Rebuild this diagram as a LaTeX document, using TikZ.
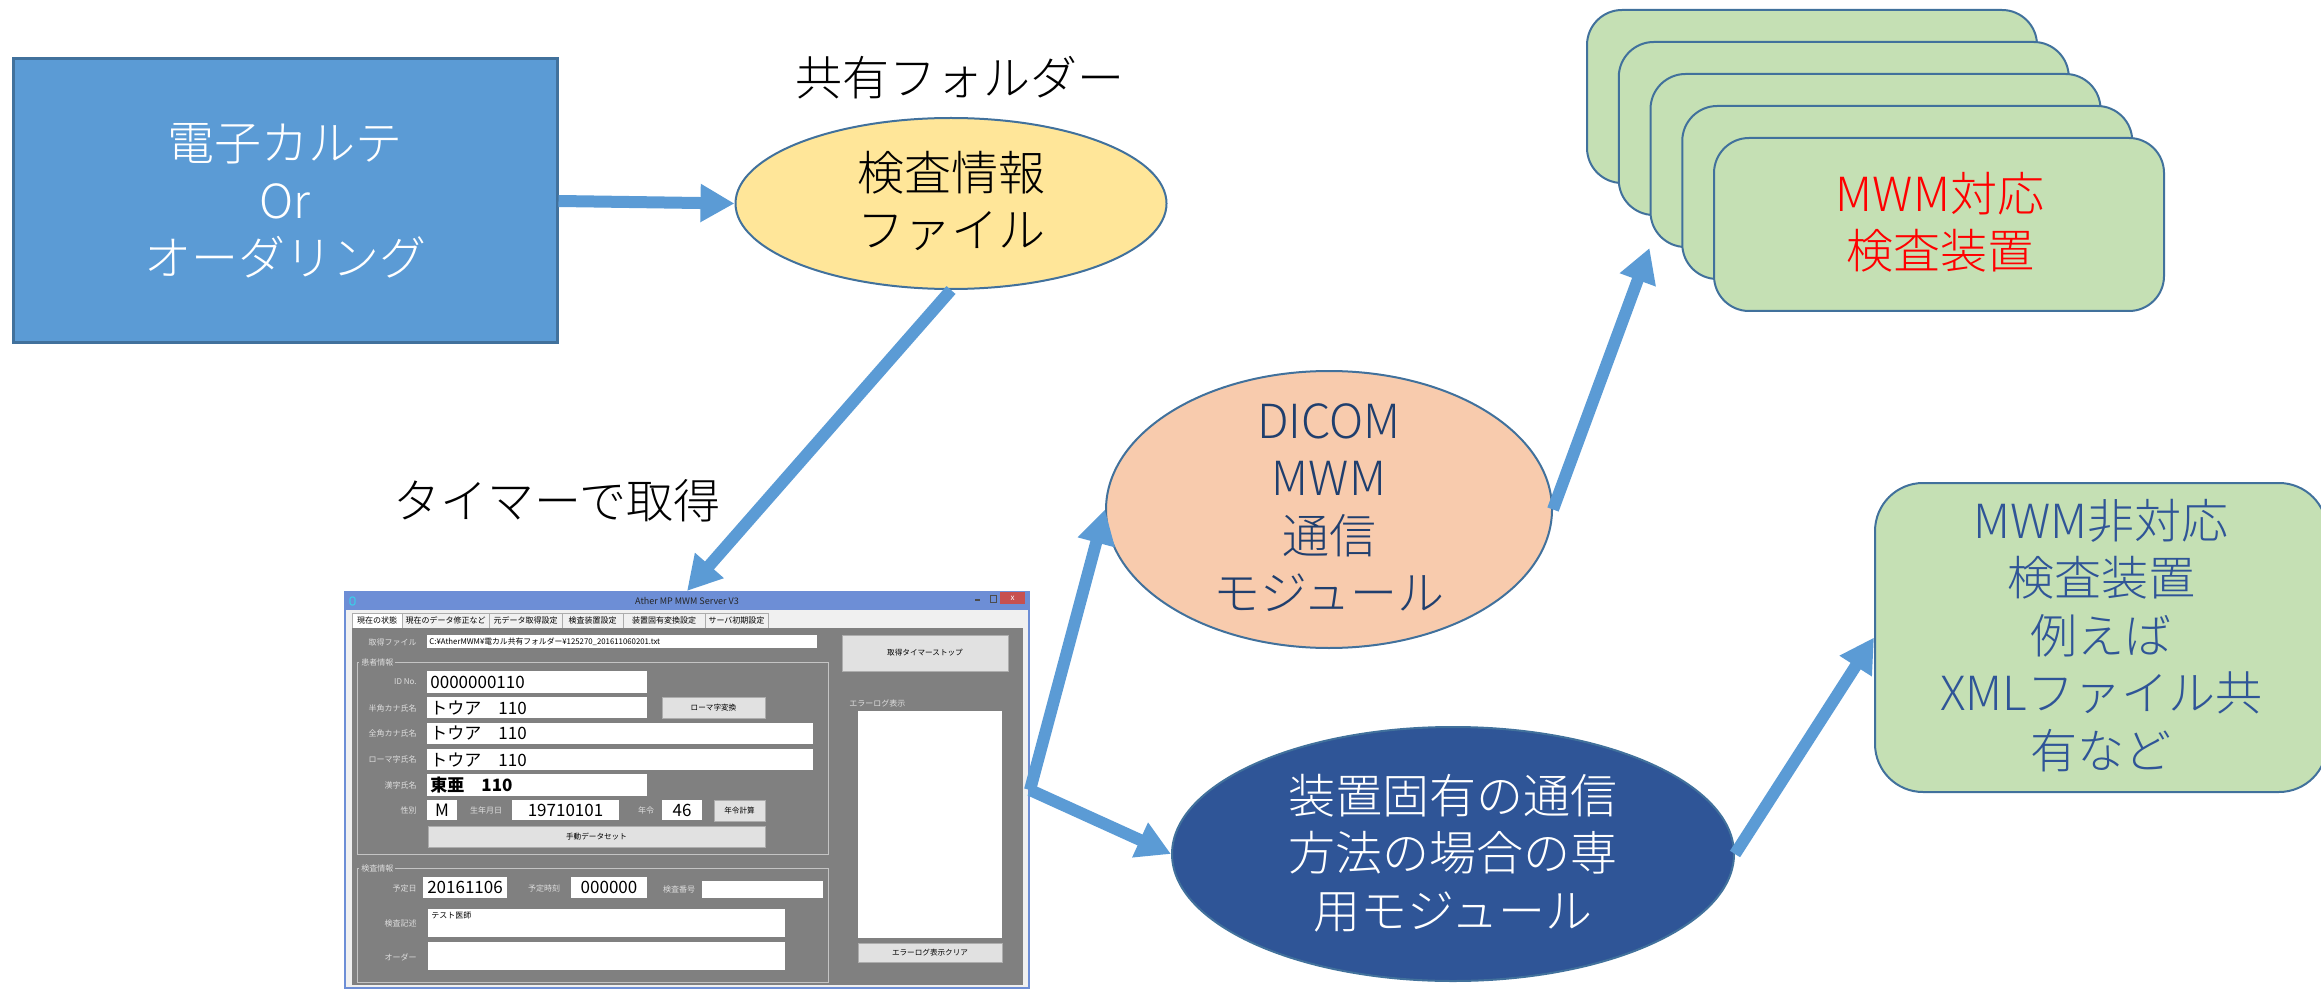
\documentclass[tikz,border=0pt]{standalone}
\usepackage{fontspec}
\setmainfont{Noto Sans CJK JP}[UprightFont=* Light,BoldFont=* Bold]
\newfontfamily\uifont{Noto Sans CJK JP}
\usetikzlibrary{arrows.meta,shapes.geometric}
\definecolor{flowblue}{HTML}{5B9BD5}
\definecolor{edgeblue}{HTML}{41719C}
\definecolor{emrfill}{HTML}{5B9BD5}
\definecolor{filefill}{HTML}{FFE699}
\definecolor{dicomfill}{HTML}{F8CBAD}
\definecolor{dicomtext}{HTML}{203F6E}
\definecolor{darkfill}{HTML}{2F5597}
\definecolor{devfill}{HTML}{C5E0B4}
\definecolor{devtext}{HTML}{2F5597}
\definecolor{wintitle}{HTML}{6D8ED6}
\definecolor{winframe}{HTML}{F0F0F0}
\definecolor{winbody}{HTML}{808080}
\definecolor{wingroup}{HTML}{C4C4C4}
\definecolor{winlabel}{HTML}{DEDEDE}
\definecolor{btnfill}{HTML}{E1E1E1}
\definecolor{btnedge}{HTML}{ADADAD}
\definecolor{closered}{HTML}{C75050}
\definecolor{tabedge}{HTML}{ACACAC}
\definecolor{iconcyan}{HTML}{3FC8E8}
\newcommand\uib[6]{%
  \pgfmathsetmacro\uibw{(#5-#3)*0.5}%
  \pgfmathsetmacro\uibh{(#6-#4)*0.5}%
  \node[#2,anchor=north west,inner sep=0pt,outer sep=0pt,minimum width=\uibw pt,minimum height=\uibh pt] (#1) at (#3,#4) {};}
\begin{document}
\begin{tikzpicture}[x=0.5pt,y=-0.5pt,
  big/.style={font=\fontsize{23.5pt}{28.75pt}\selectfont,align=center,inner sep=0pt},
  flow/.style={draw=flowblue,line width=6pt,-{Triangle[length=17pt,width=18pt]}},
  shapeedge/.style={draw=edgeblue,line width=1pt},
  devbox/.style={shapeedge,fill=devfill,rounded corners=17.5pt,minimum width=225pt,minimum height=86.5pt,inner sep=0pt},
  uilbl/.style={font=\uifont\fontsize{4pt}{5pt}\selectfont,text=winlabel,inner sep=0pt},
  uibtn/.style={fill=btnfill,draw=btnedge,line width=0.4pt},
  uifld/.style={fill=white},
  uibtxt/.style={font=\uifont\fontsize{3.8pt}{4.5pt}\selectfont,text=black,inner sep=0pt},
  uival/.style={font=\uifont\fontsize{8.5pt}{10pt}\selectfont,text=black,inner sep=0pt},
  tabbox/.style={fill=winframe,draw=tabedge,line width=0.4pt},
  tabtxt/.style={font=\uifont\fontsize{4pt}{5pt}\selectfont,text=black,inner sep=0pt},
  grpline/.style={draw=wingroup,line width=0.4pt},
]
\useasboundingbox (0,0) rectangle (2321,989);

% ---------- main flow shapes ----------
\node[shapeedge,line width=1.5pt,fill=emrfill,minimum width=272pt,minimum height=142pt,big,text=white] (emr) at (285,201) {電子カルテ\\Or\\オーダリング};

\node[big] (folderlbl) at (960,78) {共有フォルダー};
\node[ellipse,shapeedge,fill=filefill,minimum width=215.5pt,minimum height=85.5pt,inner sep=0pt] (file) at (951,203.5) {};
\node[big] (filetxt) at (951,201) {検査情報\\ファイル};

\node[big] (timerlbl) at (557,501) {タイマーで取得};

\node[ellipse,shapeedge,fill=dicomfill,minimum width=223pt,minimum height=138.5pt,inner sep=0pt] (dicom) at (1329,509.5) {};
\node[big,text=dicomtext] (dicomtxt) at (1329,507.5) {DICOM\\MWM\\通信\\モジュール};

\node[ellipse,shapeedge,fill=darkfill,minimum width=281pt,minimum height=127pt,inner sep=0pt] (dark) at (1453,854) {};
\node[big,text=white] (darktxt) at (1453,853) {装置固有の通信\\方法の場合の専\\用モジュール};

\node[devbox] (dev0) at (1812,96.5) {};
\node[devbox] (dev1) at (1843.75,128.5) {};
\node[devbox] (dev2) at (1875.5,160.5) {};
\node[devbox] (dev3) at (1907.25,192.5) {};
\node[devbox] (dev4) at (1939,224.5) {};
\node[big,text=red] (devtxt) at (1940,222.5) {MWM対応\\検査装置};

\node[shapeedge,fill=devfill,rounded corners=24pt,minimum width=226pt,minimum height=154.5pt,inner sep=0pt] (other) at (2101,637.5) {};
\node[big,text=devtext] (othertxt) at (2101,635.5) {MWM非対応\\検査装置\\例えば\\XMLファイル共\\有など};

% ---------- application window ----------
\node[draw=wintitle,line width=1pt,fill=winframe,minimum width=342pt,minimum height=198pt,inner sep=0pt] (win) at (687,790) {};
\uib{titlebar}{fill=wintitle}{345}{592}{1029}{610}
\node[font=\uifont\fontsize{4.5pt}{5pt}\selectfont,text=black!85,inner sep=0pt] (titletxt) at (687,601) {Ather MP MWM Server V3};
\uib{closebtn}{fill=closered}{1000}{592}{1025}{604}
\node[font=\uifont\fontsize{4pt}{5pt}\selectfont,text=white,inner sep=0pt] (closex) at (closebtn) {x};
\uib{minbtn}{fill=black!70}{975}{599}{980}{600.5}
\uib{maxbtn}{draw=black!70,line width=0.4pt}{990}{595}{996}{602}
\uib{appicon}{draw=iconcyan,line width=0.6pt,rounded corners=1pt}{350}{597}{355}{605}

\uib{tab1}{fill=white,draw=tabedge,line width=0.4pt}{352}{613}{402}{628}
\uib{tab2}{tabbox}{402}{613}{489}{628}
\uib{tab3}{tabbox}{489}{613}{562}{628}
\uib{tab4}{tabbox}{562}{613}{623}{628}
\uib{tab5}{tabbox}{623}{613}{705}{628}
\uib{tab6}{tabbox}{705}{613}{768}{628}
\node[tabtxt] (tabt1) at (tab1) {現在の状態};
\node[tabtxt] (tabt2) at (tab2) {現在のデータ修正など};
\node[tabtxt] (tabt3) at (tab3) {元データ取得設定};
\node[tabtxt] (tabt4) at (tab4) {検査装置設定};
\node[tabtxt] (tabt5) at (tab5) {装置固有変換設定};
\node[tabtxt] (tabt6) at (tab6) {サーバ初期設定};

\uib{body}{fill=winbody}{352}{628}{1023}{985}

\uib{grp1}{grpline}{357}{662}{828}{854}
\node[uilbl,fill=winbody,inner sep=1pt,anchor=west] (grp1lbl) at (359,662) {患者情報};
\uib{grp2}{grpline}{357}{868}{828}{982}
\node[uilbl,fill=winbody,inner sep=1pt,anchor=west] (grp2lbl) at (359,868) {検査情報};

% fields
\uib{fpath}{uifld}{427}{635}{817}{648}
\uib{fid}{uifld}{427}{671}{647}{693}
\uib{fhan}{uifld}{427}{697}{647}{718}
\uib{fzen}{uifld}{427}{723}{813}{744}
\uib{from}{uifld}{427}{749}{813}{770}
\uib{fkan}{uifld}{427}{774}{647}{796}
\uib{fsex}{uifld}{427}{800}{457}{820}
\uib{fbirth}{uifld}{512}{800}{619}{820}
\uib{fage}{uifld}{662}{800}{702}{820}
\uib{ferr}{uifld}{858}{711}{1002}{938}
\uib{fdate}{uifld}{423}{877}{507}{898}
\uib{ftime}{uifld}{571}{877}{647}{898}
\uib{fexno}{uifld}{702}{881}{823}{898}
\uib{fdesc}{uifld}{428}{909}{785}{937}
\uib{forder}{uifld}{428}{942}{785}{970}

% buttons
\uib{btimer}{uibtn}{842}{635}{1008}{671}
\uib{broma}{uibtn}{662}{697}{765}{718}
\uib{bage}{uibtn}{714}{800}{765}{821}
\uib{bset}{uibtn}{428}{826}{765}{847}
\uib{bclear}{uibtn}{858}{943}{1002}{962}
\node[uibtxt] (btimert) at (btimer) {取得タイマーストップ};
\node[uibtxt] (bromat) at (broma) {ローマ字変換};
\node[uibtxt] (baget) at (bage) {年令計算};
\node[uibtxt] (bsett) at (bset) {手動データセット};
\node[uibtxt] (bcleart) at (bclear) {エラーログ表示クリア};

% labels
\node[uilbl,anchor=east] (lfile) at (417,642) {取得ファイル};
\node[uilbl,anchor=east] (lid) at (417,682) {ID No.};
\node[uilbl,anchor=east] (lhan) at (417,708) {半角カナ氏名};
\node[uilbl,anchor=east] (lzen) at (417,733) {全角カナ氏名};
\node[uilbl,anchor=east] (lrom) at (417,759) {ローマ字氏名};
\node[uilbl,anchor=east] (lkan) at (417,785) {漢字氏名};
\node[uilbl,anchor=east] (lsex) at (417,810) {性別};
\node[uilbl] (lbirth) at (486,810) {生年月日};
\node[uilbl] (lage) at (646,810) {年令};
\node[uilbl,anchor=west] (lerr) at (849,703) {エラーログ表示};
\node[uilbl,anchor=east] (ldate) at (417,888) {予定日};
\node[uilbl] (ltime) at (544,888) {予定時刻};
\node[uilbl] (lexno) at (679,889) {検査番号};
\node[uilbl,anchor=east] (ldesc) at (417,923) {検査記述};
\node[uilbl,anchor=east] (lorder) at (417,957) {オーダー};

% values
\node[font=\uifont\fontsize{3.9pt}{4.5pt}\selectfont,inner sep=0pt,anchor=west] (vpath) at (429,641.5) {C:¥AtherMWM¥電カル共有フォルダー¥125270\_201611060201.txt};
\node[uival,anchor=west] (vid) at (430,682) {0000000110};
\node[uival,anchor=west] (vhan) at (430,707.5) {トウア　110};
\node[uival,anchor=west] (vzen) at (430,733.5) {トウア　110};
\node[uival,anchor=west] (vrom) at (430,759.5) {トウア　110};
\node[uival,anchor=west,font=\uifont\fontsize{8.5pt}{10pt}\selectfont\bfseries] (vkan) at (430,785) {東亜　110};
\node[uival] (vsex) at (fsex) {M};
\node[uival] (vbirth) at (fbirth) {19710101};
\node[uival] (vage) at (fage) {46};
\node[uival] (vdate) at (fdate) {20161106};
\node[uival] (vtime) at (ftime) {000000};
\node[font=\uifont\fontsize{4pt}{5pt}\selectfont,inner sep=0pt,anchor=north west] (vdesc) at (431,911) {テスト医師};

% ---------- connectors ----------
\draw[flow] (emr.east) -- (file.west);
\draw[flow] (file.south) -- (win.north);
\draw[flow] (win.east) -- (dicom.west);
\draw[flow] (win.east) -- (dark.west);
\draw[flow] (dicom.east) -- (dev2.south west);
\draw[flow] (dark.east) -- (other.west);
\end{tikzpicture}
\end{document}
